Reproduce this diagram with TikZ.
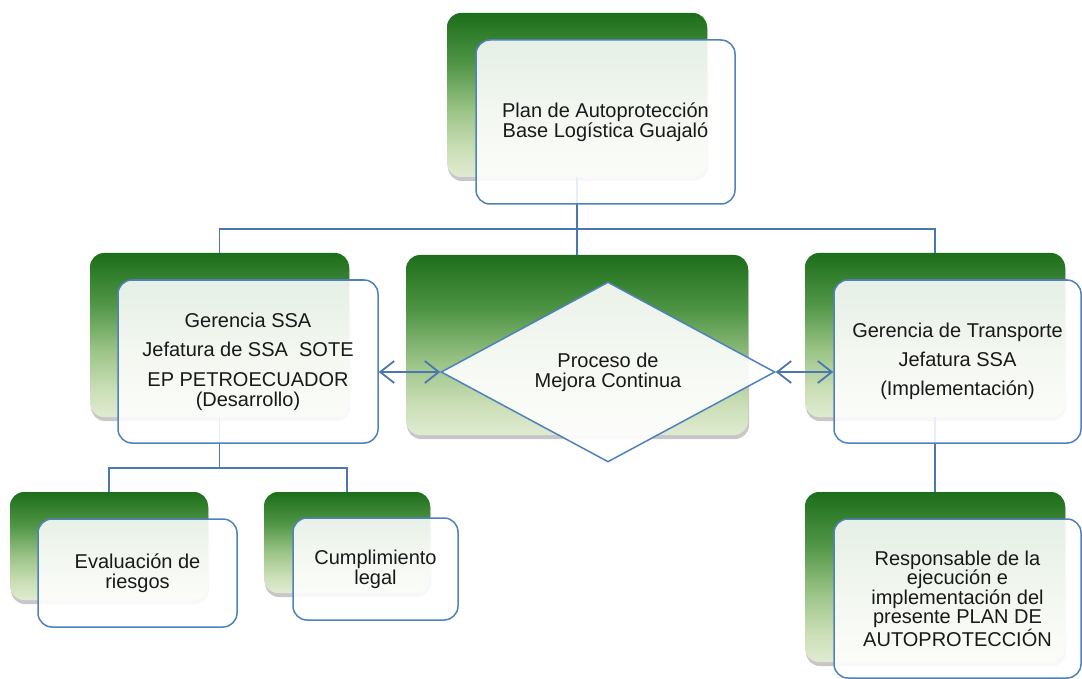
\documentclass[tikz,border=0pt]{standalone}
\usepackage{fontspec}
\setmainfont{Liberation Sans}
\usetikzlibrary{shapes.geometric,arrows.meta,shadows}
\definecolor{gtop}{HTML}{1D6E1B}
\definecolor{gthree}{HTML}{4E9444}
\definecolor{gtwo}{HTML}{9CC488}
\definecolor{gone}{HTML}{CCDFB8}
\definecolor{gbot}{HTML}{E0EBD2}
\definecolor{bblue}{HTML}{4F81BD}
\definecolor{cblue}{HTML}{4A77B2}
\pgfdeclareverticalshading{greenfade}{100bp}{color(0bp)=(gbot); color(25bp)=(gbot); color(33bp)=(gone); color(45bp)=(gtwo); color(60bp)=(gthree); color(75bp)=(gtop); color(100bp)=(gtop)}
\tikzset{
  greenbox/.style={rounded corners=14pt, shade, shading=greenfade, draw=none, inner sep=0pt,
    drop shadow={shadow xshift=1pt, shadow yshift=-4pt, opacity=0.22, fill=black}},
  frontbox/.style={rounded corners=14pt, draw=bblue, line width=1.5pt, fill=white, fill opacity=0.88,
    text opacity=1, text=black!90, align=center, inner sep=0pt, font=\fontsize{20pt}{20pt}\selectfont},
  diamondbox/.style={diamond, draw=bblue, line width=1.5pt, fill=white, fill opacity=0.9,
    text opacity=1, text=black!90, align=center, inner sep=0pt, aspect=1.85,
    font=\fontsize{20pt}{20pt}\selectfont},
  conn/.style={draw=cblue, line width=1.8pt},
  biarrow/.style={conn, {Straight Barb[length=14pt,width=22pt]}-{Straight Barb[length=14pt,width=22pt]}}
}
\begin{document}
\begin{tikzpicture}[x=1pt,y=-1pt]
\useasboundingbox (0,0) rectangle (1082,679);
% back (green) boxes
\node[greenbox, minimum width=260pt, minimum height=164pt] (g1) at (577,95) {};
\node[greenbox, minimum width=259pt, minimum height=164pt] (g2) at (219.5,335) {};
\node[greenbox, minimum width=342pt, minimum height=180pt] (g3) at (577,345) {};
\node[greenbox, minimum width=260pt, minimum height=164pt] (g4) at (935,335) {};
\node[greenbox, minimum width=198pt, minimum height=108pt] (g5) at (109,546) {};
\node[greenbox, minimum width=166pt, minimum height=101pt] (g6) at (347,542.5) {};
\node[greenbox, minimum width=260pt, minimum height=170pt] (g7) at (935,577) {};
% connectors
\coordinate (b1) at (577,229);
\coordinate (b2) at (219.5,468);
\draw[conn] (g1.south) -- (b1);
\draw[conn] (g2.north) |- (b1) -| (g4.north);
\draw[conn] (b1) -- (g3.north);
\draw[conn] (g2.south) -- (b2);
\draw[conn] (g5.north) |- (b2) -| (g6.north);
\draw[conn] (g4.south) -- (g7.north);
% front boxes
\node[frontbox, minimum width=259pt, minimum height=164pt] (f1) at (605.5,122)
  {Plan de Autoprotección\\Base Logística Guajaló};
\node[frontbox, minimum width=260pt, minimum height=163pt] (f2) at (248,361.5)
  {Gerencia SSA\\[9pt]Jefatura de SSA\ \ SOTE\\[10pt]EP PETROECUADOR\\(Desarrollo)};
\node[diamondbox, minimum width=334pt, minimum height=180pt] (d) at (608,372)
  {Proceso de\\Mejora Continua};
\node[frontbox, minimum width=247pt, minimum height=163pt] (f4) at (957.5,361.5)
  {Gerencia de Transporte\\[9pt]Jefatura SSA\\[9pt](Implementación)};
\node[frontbox, minimum width=199pt, minimum height=108pt] (f5) at (137.5,573)
  {Evaluación de\\riesgos};
\node[frontbox, minimum width=165pt, minimum height=102pt] (f6) at (375.5,569)
  {Cumplimiento\\legal};
\node[frontbox, minimum width=247pt, minimum height=159pt, font=\fontsize{20pt}{19.5pt}\selectfont] (f7) at (957.5,598.5)
  {Responsable de la\\ejecución e\\implementación del\\presente PLAN DE\\AUTOPROTECCIÓN};
% arrows
\draw[biarrow] (f2.east |- d.west) -- (d.west);
\draw[biarrow] (d.east) -- (d.east -| f4.west);
\end{tikzpicture}
\end{document}
